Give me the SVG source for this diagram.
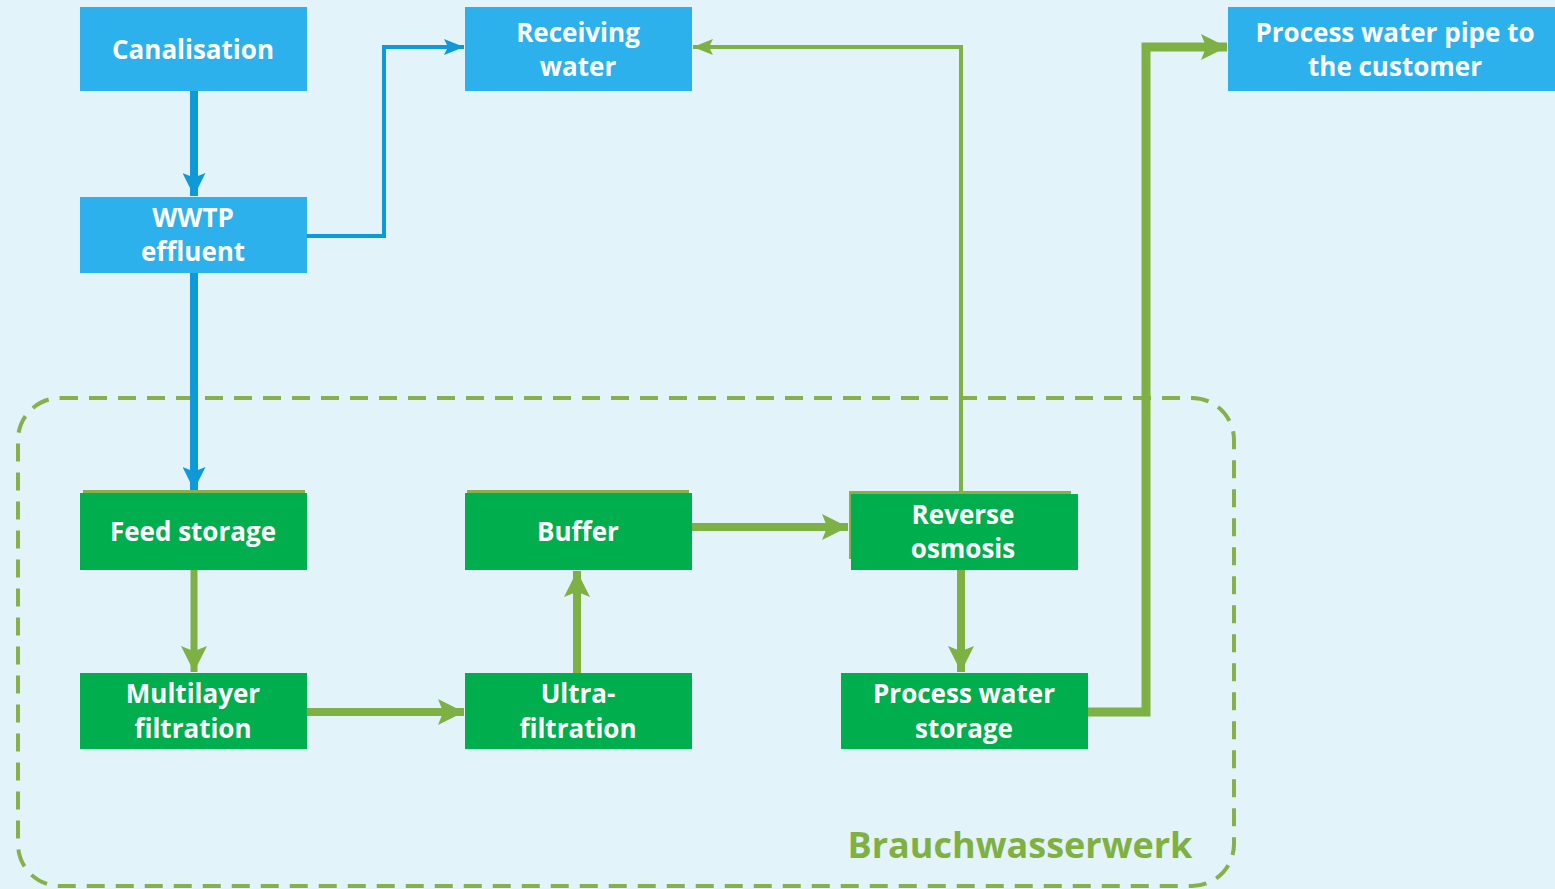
<svg xmlns="http://www.w3.org/2000/svg" width="1555" height="889" viewBox="0 0 1555 889">
<defs>
<style>
.bg{fill:#E2F3FA}
.blue{fill:#2CB1EC}
.green{fill:#00AE4D}
.t{font-family:"Open Sans","Noto Sans","Liberation Sans",sans-serif;font-weight:bold;font-size:26px;fill:#FFFFFF;text-anchor:middle}
.cb{fill:none;stroke:#0E9AD8;stroke-linejoin:miter}
.cg{fill:none;stroke:#7DB143;stroke-linejoin:miter}
.frame{fill:none;stroke:#86B04A;stroke-width:4;stroke-dasharray:18 11}
.lbl{font-family:"Open Sans","Noto Sans","Liberation Sans",sans-serif;font-weight:bold;font-size:36px;fill:#80B040}
</style>
<marker id="ab" viewBox="0 0 10 10" refX="10" refY="5" markerWidth="23" markerHeight="23" markerUnits="userSpaceOnUse" orient="auto"><path d="M0,0 L10,5 L0,10 L2,5 Z" fill="#0E9AD8"/></marker>
<marker id="ab2" viewBox="0 0 10 10" refX="10" refY="5" markerWidth="20" markerHeight="20" markerUnits="userSpaceOnUse" orient="auto"><path d="M0,1 L10,5 L0,9 L2,5 Z" fill="#0E9AD8"/></marker>
<marker id="ag" viewBox="0 0 10 10" refX="10" refY="5" markerWidth="26" markerHeight="26" markerUnits="userSpaceOnUse" orient="auto"><path d="M0,0 L10,5 L0,10 L2,5 Z" fill="#7DB143"/></marker>
<marker id="ag2" viewBox="0 0 10 10" refX="10" refY="5" markerWidth="20" markerHeight="20" markerUnits="userSpaceOnUse" orient="auto"><path d="M0,1 L10,5 L0,9 L2,5 Z" fill="#7DB143"/></marker>
</defs>
<rect class="bg" x="0" y="0" width="1555" height="889"/>

<g id="frame">
<rect class="frame" x="18" y="398" width="1216" height="488" rx="42" ry="42"/>
<text class="lbl" x="1020" y="858" text-anchor="middle">Brauchwasserwerk</text>
</g>

<g id="connectors">
<path class="cb" stroke-width="8" d="M194,91 L194,196" marker-end="url(#ab)"/>
<path class="cb" stroke-width="8" d="M194,273 L194,490" marker-end="url(#ab)"/>
<path class="cb" stroke-width="4" d="M307,236 L384,236 L384,47 L464,47" marker-end="url(#ab2)"/>
<path class="cg" stroke-width="4" d="M961,491 L961,47 L693,47" marker-end="url(#ag2)"/>
<path class="cg" stroke-width="7" d="M194,570 L194,672" marker-end="url(#ag)"/>
<path class="cg" stroke-width="8" d="M307,712 L464,712" marker-end="url(#ag)"/>
<path class="cg" stroke-width="8" d="M577,673 L577,571" marker-end="url(#ag)"/>
<path class="cg" stroke-width="8" d="M692,527 L848,527" marker-end="url(#ag)"/>
<path class="cg" stroke-width="8" d="M961,570 L961,672" marker-end="url(#ag)"/>
<path class="cg" stroke-width="9" d="M1088,712 L1146,712 L1146,47 L1227,47" marker-end="url(#ag)"/>
</g>

<g id="canalisation">
<rect class="blue" x="80" y="7" width="227" height="84"/>
<text class="t" x="193" y="59">Canalisation</text>
</g>
<g id="wwtp">
<rect class="blue" x="80" y="197" width="227" height="76"/>
<text class="t" x="193" y="227">WWTP</text>
<text class="t" x="193" y="261">effluent</text>
</g>
<g id="receiving">
<rect class="blue" x="465" y="7" width="227" height="84"/>
<text class="t" x="578" y="42">Receiving</text>
<text class="t" x="578" y="76">water</text>
</g>
<g id="customer">
<rect class="blue" x="1228" y="7" width="327" height="84"/>
<text class="t" x="1395" y="42">Process water pipe to</text>
<text class="t" x="1395" y="76">the customer</text>
</g>
<g id="feed">
<rect fill="#86B04A" x="83" y="490" width="222" height="4"/>
<rect class="green" x="80" y="493" width="227" height="77"/>
<text class="t" x="193" y="541">Feed storage</text>
</g>
<g id="buffer">
<rect fill="#86B04A" x="467" y="490" width="222" height="4"/>
<rect class="green" x="465" y="493" width="227" height="77"/>
<text class="t" x="578" y="541">Buffer</text>
</g>
<g id="ro">
<rect fill="#86B04A" x="849" y="491" width="222" height="68"/>
<rect class="green" x="851" y="494" width="227" height="76"/>
<text class="t" x="963" y="524">Reverse</text>
<text class="t" x="963" y="558">osmosis</text>
</g>
<g id="multilayer">
<rect class="green" x="80" y="673" width="227" height="76"/>
<text class="t" x="193" y="703">Multilayer</text>
<text class="t" x="193" y="738">filtration</text>
</g>
<g id="ultra">
<rect class="green" x="465" y="673" width="227" height="76"/>
<text class="t" x="578" y="703">Ultra-</text>
<text class="t" x="578" y="738">filtration</text>
</g>
<g id="pwstorage">
<rect class="green" x="841" y="673" width="247" height="76"/>
<text class="t" x="964" y="703">Process water</text>
<text class="t" x="964" y="738">storage</text>
</g>
</svg>
